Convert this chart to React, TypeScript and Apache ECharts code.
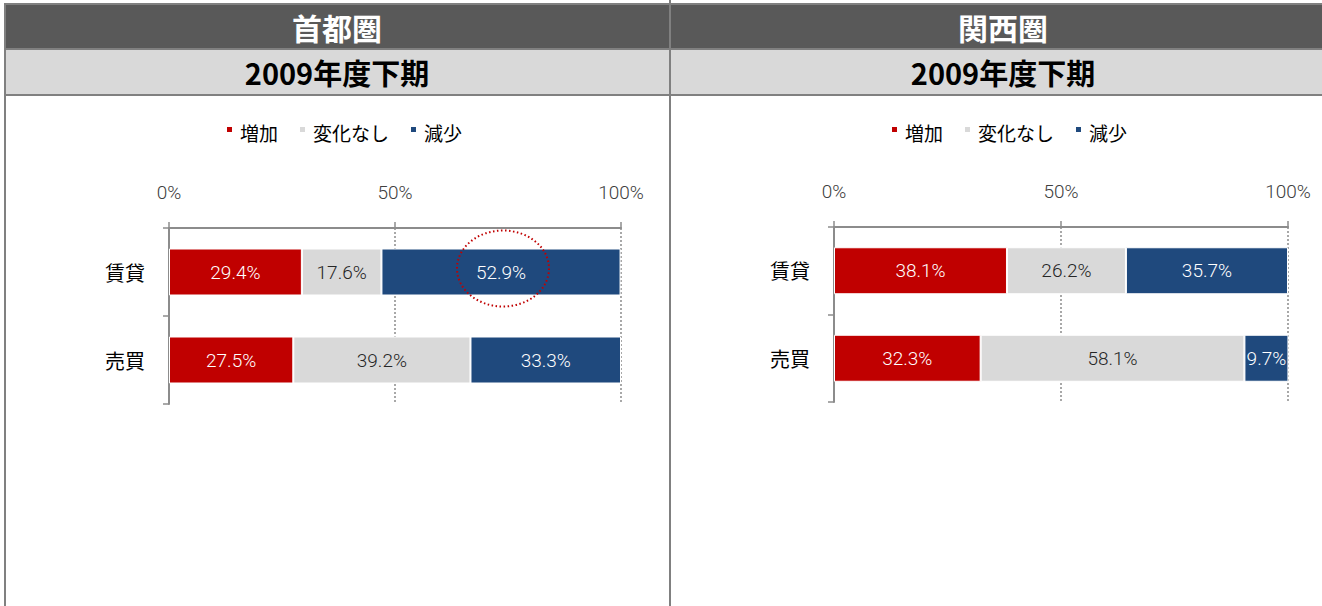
import React, { useEffect, useRef } from "react";
import * as echarts from "echarts";

const regions = ["首都圏", "関西圏"];
const periods = ["2009年度下期", "2009年度下期"];
const categories = ["賃貸", "売買"];
const seriesNames = ["増加", "変化なし", "減少"];
const seriesColors = ["#c00000", "#d9d9d9", "#1f497d"];
const labelColors = ["#ffffff", "#262626", "#ffffff"];
// region 0: 首都圏
const shutoken = [
  [29.4, 27.5],
  [17.6, 39.2],
  [52.9, 33.3],
];
// region 1: 関西圏
const kansai = [
  [38.1, 32.3],
  [26.2, 58.1],
  [35.7, 9.7],
];
const regionData = [shutoken, kansai];
const xTicks = [0, 50, 100];

const W = 1322;
const H = 606;
const JP = "'Noto Sans CJK JP', 'Noto Sans', sans-serif";
const NUM = "Roboto, 'Noto Sans', sans-serif";

const grids = [
  { left: 169, top: 228, width: 452, height: 176 },
  { left: 834, top: 227, width: 454, height: 175 },
];
const centers = [337, 1003];
const legendLefts = [225, 890];

export default function App() {
  const ref = useRef<HTMLDivElement>(null);

  useEffect(() => {
    if (!ref.current) return;
    const chart = echarts.init(ref.current, undefined, { renderer: "svg", width: W, height: H });

    const xAxes: any[] = [];
    const yAxes: any[] = [];
    const series: any[] = [];
    const legends: any[] = [];
    const titles: any[] = [];

    regions.forEach((r, gi) => {
      xAxes.push({
        type: "value",
        gridIndex: gi,
        position: "top",
        min: xTicks[0],
        max: xTicks[xTicks.length - 1],
        interval: xTicks[1] - xTicks[0],
        axisLine: { show: true, lineStyle: { color: "#8c8c8c", width: 2 } },
        axisTick: { show: true, length: 6, lineStyle: { color: "#8c8c8c", width: 1.5 } },
        axisLabel: {
          formatter: "{value}%",
          margin: 26,
          fontSize: 19,
          fontWeight: 300,
          color: "#404040",
          fontFamily: NUM,
        },
        splitLine: { show: true, lineStyle: { color: "#8c8c8c", type: [2, 2], width: 1.5 } },
      });
      yAxes.push({
        type: "category",
        gridIndex: gi,
        data: categories,
        inverse: true,
        axisLine: { show: true, lineStyle: { color: "#8c8c8c", width: 2 } },
        axisTick: { show: true, length: 6, lineStyle: { color: "#8c8c8c", width: 1.5 } },
        axisLabel: { fontSize: 20, color: "#000", margin: 24, fontFamily: JP },
        splitLine: { show: false },
      });
      seriesNames.forEach((name, si) => {
        series.push({
          type: "bar",
          name,
          xAxisIndex: gi,
          yAxisIndex: gi,
          stack: "s" + gi,
          barWidth: 47,
          data: regionData[gi][si],
          itemStyle: { color: seriesColors[si], borderColor: "#ffffff", borderWidth: 1 },
          label: {
            show: true,
            position: "inside",
            formatter: (p: any) => p.value.toFixed(1) + "%",
            color: labelColors[si],
            fontSize: 19,
            fontWeight: 300,
            fontFamily: NUM,
          },
        });
      });
      legends.push({
        data: seriesNames,
        left: legendLefts[gi],
        top: 123,
        padding: 0,
        icon: "path://M0,0L7,0L7,7L0,7Z M0,13L0.01,13L0,13.01Z",
        itemWidth: 7,
        itemHeight: 13,
        itemGap: 20,
        textStyle: { fontSize: 19, color: "#000", fontFamily: JP, padding: [0, 0, 0, 2] },
      });
      titles.push({
        text: r,
        left: centers[gi],
        textAlign: "center",
        top: 12,
        padding: 0,
        textStyle: { fontSize: 30, fontWeight: "bold", color: "#ffffff", fontFamily: JP },
      });
      titles.push({
        text: periods[gi],
        left: centers[gi],
        textAlign: "center",
        top: 57,
        padding: 0,
        textStyle: { fontSize: 29, fontWeight: "bold", color: "#000", fontFamily: JP },
      });
    });

    const baseGraphic: any[] = [
      { type: "rect", shape: { x: 5, y: 5, width: W - 5, height: 43 }, style: { fill: "#595959" }, z: -10 },
      { type: "rect", shape: { x: 5, y: 50, width: W - 5, height: 44 }, style: { fill: "#d9d9d9" }, z: -10 },
      { type: "rect", shape: { x: 4, y: 3, width: W - 4, height: 2 }, style: { fill: "#808080" }, z: -9 },
      { type: "rect", shape: { x: 4, y: 48, width: W - 4, height: 2 }, style: { fill: "#808080" }, z: -9 },
      { type: "rect", shape: { x: 4, y: 94, width: W - 4, height: 2 }, style: { fill: "#808080" }, z: -9 },
      { type: "rect", shape: { x: 4, y: 3, width: 2, height: H - 3 }, style: { fill: "#808080" }, z: -9 },
      { type: "rect", shape: { x: 669, y: 0, width: 2, height: H }, style: { fill: "#808080" }, z: -9 },
    ];

    const option: any = {
      animation: false,
      backgroundColor: "#ffffff",
      title: titles,
      legend: legends,
      grid: grids,
      xAxis: xAxes,
      yAxis: yAxes,
      series,
      graphic: baseGraphic,
    };
    chart.setOption(option);

    // highlight ellipse around 首都圏 賃貸 減少 segment
    const rent = 0;
    const v = shutoken[0][rent] + shutoken[1][rent] + shutoken[2][rent] / 2;
    const pt = chart.convertToPixel({ xAxisIndex: 0, yAxisIndex: 0 }, [v, categories[rent]]) as number[];
    chart.setOption({
      graphic: [
        ...baseGraphic,
        {
          type: "ellipse",
          shape: { cx: pt[0] + 2, cy: pt[1] - 3.5, rx: 46, ry: 38 },
          style: { fill: "none", stroke: "#c00000", lineWidth: 2, lineDash: [1.5, 2.5] },
          z: 100,
        },
      ],
    });

    return () => chart.dispose();
  }, []);

  return (
    <div
      ref={ref}
      style={{ position: "fixed", left: 0, top: 0, width: W, height: H, background: "#fff" }}
    />
  );
}
